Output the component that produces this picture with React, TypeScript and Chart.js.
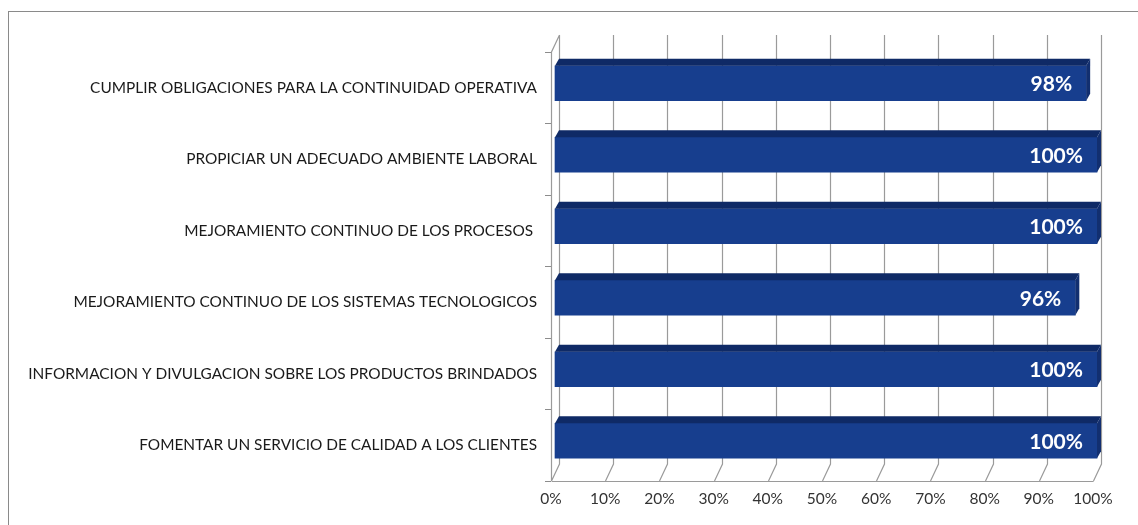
import React, { useEffect, useRef } from 'react';
import { Chart, registerables } from 'chart.js';

Chart.register(...registerables);

const categories = [
  'CUMPLIR OBLIGACIONES PARA LA CONTINUIDAD OPERATIVA',
  'PROPICIAR UN ADECUADO AMBIENTE LABORAL',
  'MEJORAMIENTO CONTINUO DE LOS PROCESOS ',
  'MEJORAMIENTO CONTINUO DE LOS SISTEMAS TECNOLOGICOS',
  'INFORMACION Y DIVULGACION SOBRE LOS PRODUCTOS BRINDADOS',
  'FOMENTAR UN SERVICIO DE CALIDAD A LOS CLIENTES',
];
const values = [98, 100, 100, 96, 100, 100];
const axisMin = 0;
const axisMax = 100;
const axisStep = 10;

const FONT = 'Lato, "Open Sans", sans-serif';
const DEPTH_X = 8;
const DEPTH_Y = 17;
const BAR_SHIFT_X = 4;
const BAR_SHIFT_Y = -4.5;
const TOP_DX = 4;
const TOP_DY = 7;

const threeDPlugin = {
  id: 'threeD',
  beforeDatasetsDraw(chart: any) {
    const { ctx, chartArea, scales } = chart;
    const { top, bottom, left } = chartArea;
    const x = scales.x;
    ctx.save();
    ctx.strokeStyle = '#9a9a9a';
    ctx.lineWidth = 1.2;
    ctx.beginPath();
    for (const t of x.ticks) {
      const px = Math.round(x.getPixelForValue(t.value)) + 0.5;
      ctx.moveTo(px + DEPTH_X, top - DEPTH_Y);
      ctx.lineTo(px + DEPTH_X, bottom - DEPTH_Y);
      ctx.lineTo(px, bottom);
    }
    const l = Math.round(left) + 0.5;
    ctx.moveTo(l, Math.round(bottom) + 0.5);
    ctx.lineTo(Math.round(x.right) + 0.5, Math.round(bottom) + 0.5);
    ctx.moveTo(l + DEPTH_X, top - DEPTH_Y);
    ctx.lineTo(l, top);
    ctx.lineTo(l, bottom);
    ctx.stroke();
    ctx.restore();
    ctx.save();
    ctx.translate(BAR_SHIFT_X, BAR_SHIFT_Y);
  },
  afterDatasetsDraw(chart: any) {
    const { ctx } = chart;
    const meta = chart.getDatasetMeta(0);
    meta.data.forEach((bar: any, i: number) => {
      const { x, y, base, height } = bar.getProps(['x', 'y', 'base', 'height'], true);
      const t = y - height / 2;
      const b = y + height / 2;
      ctx.fillStyle = '#0f2a66';
      ctx.beginPath();
      ctx.moveTo(base, t);
      ctx.lineTo(base + TOP_DX, t - TOP_DY);
      ctx.lineTo(x + TOP_DX, t - TOP_DY);
      ctx.lineTo(x, t);
      ctx.closePath();
      ctx.fill();
      ctx.fillStyle = '#122f70';
      ctx.beginPath();
      ctx.moveTo(x, t);
      ctx.lineTo(x + TOP_DX, t - TOP_DY);
      ctx.lineTo(x + TOP_DX, b - TOP_DY);
      ctx.lineTo(x, b);
      ctx.closePath();
      ctx.fill();
      ctx.fillStyle = '#ffffff';
      ctx.font = 'bold 21px ' + FONT;
      ctx.textAlign = 'right';
      ctx.textBaseline = 'middle';
      ctx.fillText(values[i] + '%', x - 14, y + 1);
    });
    ctx.restore();
  },
};

export default function App() {
  const ref = useRef<HTMLCanvasElement>(null);
  useEffect(() => {
    if (!ref.current) return;
    const chart = new Chart(ref.current, {
      type: 'bar',
      data: {
        labels: categories,
        datasets: [
          {
            data: values,
            backgroundColor: '#173e8e',
            borderWidth: 0,
            barThickness: 35,
            clip: false as any,
          },
        ],
      },
      options: {
        indexAxis: 'y',
        animation: false,
        responsive: false,
        layout: { padding: { top: 52, left: 0, right: 45, bottom: 0 } },
        plugins: { legend: { display: false }, tooltip: { enabled: false } },
        scales: {
          x: {
            min: axisMin,
            max: axisMax,
            grid: { display: false, drawTicks: false, tickLength: 0 },
            border: { display: false },
            ticks: {
              stepSize: axisStep,
              padding: 9,
              color: '#333333',
              font: { family: FONT, size: 15.5 },
              callback: (v: any) => v + '%',
            },
            afterFit: (s: any) => {
              s.height = 44;
            },
          },
          y: {
            grid: { display: true, drawOnChartArea: false, tickLength: 6, color: '#8c8c8c' },
            border: { display: false },
            ticks: {
              padding: 8,
              color: '#1a1a1a',
              font: { family: FONT, size: 15.4 },
            },
            afterFit: (s: any) => {
              s.width = 551;
            },
          },
        },
      },
      plugins: [threeDPlugin],
    });
    return () => chart.destroy();
  }, []);
  return (
    <div style={{ position: 'fixed', left: 0, top: 0, width: 1138, height: 525, background: '#fff' }}>
      <div
        style={{
          position: 'absolute',
          left: 8,
          top: 11,
          width: 1200,
          height: 600,
          borderTop: '1.5px solid #8a8a8a',
          borderLeft: '1.5px solid #8a8a8a',
        }}
      />
      <canvas ref={ref} width={1138} height={525} style={{ position: 'absolute', left: 0, top: 0 }} />
    </div>
  );
}
